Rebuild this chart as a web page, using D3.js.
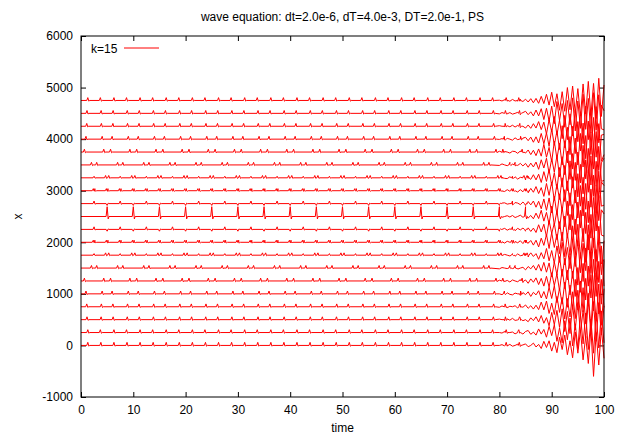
<!DOCTYPE html>
<html>
<head>
<meta charset="utf-8">
<script src="https://cdn.jsdelivr.net/npm/d3@7"></script>
<style>
  body { margin: 0; background: #fff; }
  text { font-family: "Liberation Sans", Arial, sans-serif; font-size: 12px; fill: #000; }
</style>
</head>
<body>
<div id="chart"></div>
<script>
// chart values
var chartTitle = "wave equation: dt=2.0e-6, dT=4.0e-3, DT=2.0e-1, PS";
var seriesName = "k=15";
var xTicks = [0, 10, 20, 30, 40, 50, 60, 70, 80, 90, 100];
var yTicks = [-1000, 0, 1000, 2000, 3000, 4000, 5000, 6000];

// one trace per x position, drawn at these offsets
var offsets = [0, 250, 500, 750, 1000, 1250, 1500, 1750, 2000, 2250,
               2500, 2750, 3000, 3250, 3500, 3750, 4000, 4250, 4500, 4750];

// pulses seen in every 5-unit stretch of time: [time in stretch, height]
var pulseCycle = 5;
var pulseEnd = 85.5;
var pulses = [
  [[1.3, 60], [3.8, 60]],
  [[1.3, 55], [3.7, 55]],
  [[1.15, 55], [3.85, 55]],
  [[1.1, 55], [3.9, 55]],
  [[0.95, 55], [4.05, 55]],
  [[0.65, 55], [4.35, 55]],
  [[2.0, 50], [3.0, 50]],
  [[4.7, 45], [0.3, 45], [2.5, 30]],
  [[4.85, 40], [0.15, 40], [2.35, 40], [2.65, 40]],
  [[0, -35], [2.5, 50]],
  [[0, 190]],
  [[0, -35], [2.5, 50]],
  [[4.85, 40], [0.15, 40], [2.35, 40], [2.65, 40]],
  [[4.7, 45], [0.3, 45], [2.5, 30]],
  [[2.0, 50], [3.0, 50]],
  [[0.65, 55], [4.35, 55]],
  [[0.95, 55], [4.05, 55]],
  [[1.1, 55], [3.9, 55]],
  [[1.15, 55], [3.85, 55]],
  [[1.3, 55], [3.7, 55]]
];

// late part of each trace (t = 80 ... 100), values around its offset
var burstTimes = [80, 80.5, 81, 81.5, 82, 82.5, 83, 83.5, 84, 84.5, 85, 85.5, 86, 86.5, 87, 87.5,
                  88, 88.5, 89, 89.5, 90, 90.5, 91, 91.5, 92, 92.5, 93, 93.5, 94, 94.5, 95, 95.5,
                  96, 96.5, 97, 97.5, 98, 98.5, 99, 99.5, 100];
var burst = [
  [0,15,-10,0,20, -15,0,25,-20,10, 30,-25,0,45,-30, 20,-60,80,-40,90, -110,60,-140,160,-80, 200,-180,90,-240,260, -150,300,-280,180,-350, 320,-600,250,-380,340, -250],
  [0,-10,20,-15,0, 10,-25,15,0,-30, 20,40,-35,10,-50, 70,-30,60,-90,120, -60,150,-170,90,-200, 230,-140,280,-260,170, -310,350,-220,380,-330, 260,-400,380,-300,420, -200],
  [10,0,-20,15,-10, 25,-15,-5,30,-20, 0,-40,35,-20,55, -45,80,-70,40,-120, 140,-100,180,-150,210, -230,160,-270,290,-200, 330,-260,180,-360,390, -290,350,-420,330,-300, 260],
  [-10,15,0,-20,10, 0,20,-25,15,-10, 35,-30,20,-45,30, -55,90,-60,110,-130, 70,-150,200,-110,180, -240,160,-200,290,-230, 320,-180,370,-330,260, -420,390,-280,440,-360, 350],
  [0,-15,10,20,-10, -20,15,0,-30,25, -15,40,-50,30,-20, 60,-80,45,-100,130, -90,160,-170,110,-200, 230,-260,170,-300,280, -310,250,-350,300,-240, 380,-330,410,-390,280, -260],
  [15,0,-10,10,-20, 20,0,-15,25,-30, 20,-45,40,-25,60, -70,50,-100,90,-120, 160,-90,140,-190,230, -150,210,-270,190,-300, 260,-220,340,-370,290, -330,420,-300,380,-450, 400],
  [-15,10,0,-10,20, -10,25,-20,0,15, -35,30,-15,50,-40, 70,-60,110,-80,100, -170,120,-130,220,-160, 190,-230,280,-200,240, -330,300,-260,390,-350, 310,-410,360,-280,430, -350],
  [10,-10,15,0,-15, 10,-20,25,-10,0, 30,-35,45,-25,30, -80,50,-70,130,-110, 90,-160,180,-140,250, -190,150,-260,310,-220, 280,-340,230,-300,400, -360,330,-430,290,-380, 280],
  [0,10,-15,20,0, -20,15,-10,30,-25, 40,-20,35,-55,40, -90,80,-60,150,-120, 190,-100,160,-220,200, -280,170,-240,320,-260, 350,-310,270,-390,340, -300,420,-370,310,-420, -330],
  [-10,0,20,-15,10, 0,-25,20,-10,25, -20,30,-40,25,-60, 90,-50,100,-140,170, -80,120,-200,150,-230, 260,-170,290,-250,200, -320,370,-240,330,-400, 290,-350,440,-300,380, 300],
  [10,-15,0,15,-10, 20,-20,0,25,-15, 45,-30,20,-45,65, -40,120,-90,80,-150, 200,-170,110,-240,180, -200,300,-260,230,-350, 280,-220,380,-330,300, -420,370,-280,410,-360, -380],
  [-15,10,15,-10,0, -25,20,10,-20,30, -35,40,-25,50,-70, 45,-100,90,-130,110, -180,140,-210,190,-150, 270,-230,210,-310,260, -280,350,-240,390,-370, 280,-410,350,-330,420, 350],
  [10,-5,-15,20,-10, 15,0,-25,20,-20, 25,-40,45,-30,80, -55,60,-110,140,-90, 170,-190,130,-170,250, -210,190,-290,270,-240, 330,-300,260,-360,410, -320,300,-430,380,-300, -280],
  [0,15,-10,-15,20, -10,20,-25,10,15, -40,30,-30,60,-40, 70,-90,120,-70,160, -150,100,-220,200,-180, 240,-250,330,-200,300, -370,260,-310,350,-280, 430,-360,320,-400,290, 380],
  [-10,20,0,-15,10, 20,-15,-10,30,-20, 30,-45,35,-40,55, -85,100,-60,130,-160, 120,-140,180,-230,160, -190,270,-280,220,-300, 250,-350,380,-270,320, -390,340,-410,360,-320, -300],
  [15,-10,10,0,-20, 15,10,-25,20,-15, -20,40,-50,35,-70, 60,-80,150,-100,90, -190,210,-130,170,-250, 220,-210,300,-330,270, -250,360,-290,320,-410, 380,-330,400,-360,330, 340],
  [-5,10,-15,15,0, -20,25,-10,0,20, 35,-30,40,-60,45, -75,110,-90,120,-140, 200,-120,160,-200,260, -170,230,-300,250,-280, 340,-230,310,-380,350, -300,420,-350,300,-430, -300],
  [10,0,-15,10,-10, 20,-15,15,-25,0, -35,25,-40,50,-35, 90,-65,80,-150,130, -110,190,-170,120,-240, 210,-260,240,-190,320, -300,280,-340,390,-260, 330,-420,380,-320,410, 300],
  [-10,15,0,-10,15, -15,0,20,-25,15, 40,-25,30,-50,65, -50,90,-120,100,-150, 140,-200,230,-140,190, -270,250,-220,300,-340, 240,-290,370,-310,290, -380,400,-330,360,-300, -320],
  [5,-10,15,-5,-15, 20,-10,-15,25,-20, 25,-30,35,-45,40, -55,80,-60,120,-90, 160,-120,130,-190,170, -210,250,-180,280,-240, 230,-300,320,-260,370, -290,330,-350,430,-310, 300]
];

var margin = {top: 36, right: 19, bottom: 39, left: 81};
var width = 623 - margin.left - margin.right;
var height = 436 - margin.top - margin.bottom;

var svg = d3.select("#chart")
  .append("svg")
  .attr("width", 623)
  .attr("height", 436)
  .append("g")
  .attr("transform", "translate(" + margin.left + "," + margin.top + ")");

var x = d3.scaleLinear().domain([0, 100]).range([0, width]);
var y = d3.scaleLinear().domain([-1000, 6000]).range([height, 0]);

var plainNum = function(d) { return String(d); };

// axes, ticks pointing inward on all four sides
var xAxis = svg.append("g")
  .attr("transform", "translate(0," + height + ")")
  .call(d3.axisBottom(x).tickValues(xTicks).tickSize(-5).tickPadding(8).tickFormat(plainNum));
svg.append("g")
  .call(d3.axisTop(x).tickValues(xTicks).tickSize(-5).tickFormat(""));
var yAxis = svg.append("g")
  .call(d3.axisLeft(y).tickValues(yTicks).tickSize(-5).tickPadding(8).tickFormat(plainNum));
svg.append("g")
  .attr("transform", "translate(" + width + ",0)")
  .call(d3.axisRight(y).tickValues(yTicks).tickSize(-5).tickFormat(""));

svg.selectAll(".domain").remove();
svg.selectAll(".tick line").attr("stroke", "#000");
svg.selectAll(".tick text").attr("fill", "#000").style("font-size", "12px")
  .style("font-family", "'Liberation Sans', Arial, sans-serif");

// build each trace: flat line with pulses, noise from t=80 on
function tracePoints(k) {
  var pts = [[0, 0]];
  for (var c = 0; c * pulseCycle < pulseEnd; c++) {
    pulses[k].forEach(function(p) {
      var t = c * pulseCycle + p[0];
      if (t > 0.5 && t < pulseEnd) {
        pts.push([t - 0.2, 0]);
        pts.push([t, p[1]]);
        pts.push([t + 0.2, -0.25 * p[1]]);
        pts.push([t + 0.35, 0]);
      }
    });
  }
  burstTimes.forEach(function(t, i) {
    pts.push([t, burst[k][i]]);
  });
  pts.sort(function(a, b) { return a[0] - b[0]; });
  return pts.map(function(p) { return {t: p[0], v: p[1] + offsets[k]}; });
}

var line = d3.line()
  .x(function(d) { return x(d.t); })
  .y(function(d) { return y(d.v); });

var plot = svg.append("g");
offsets.forEach(function(o, k) {
  plot.append("path")
    .datum(tracePoints(k))
    .attr("fill", "none")
    .attr("stroke", "#ff0000")
    .attr("stroke-width", 1)
    .attr("d", line);
});

// frame
svg.append("rect")
  .attr("x", 0).attr("y", 0)
  .attr("width", width).attr("height", height)
  .attr("fill", "none")
  .attr("stroke", "#000")
  .attr("stroke-width", 1);

// legend
svg.append("text").attr("x", 10).attr("y", 16.5).text(seriesName);
svg.append("line")
  .attr("x1", 43).attr("x2", 78)
  .attr("y1", 12).attr("y2", 12)
  .attr("stroke", "#ff0000").attr("stroke-width", 1);

// title and labels
svg.append("text")
  .attr("x", width / 2).attr("y", -15)
  .style("text-anchor", "middle")
  .text(chartTitle);

svg.append("text")
  .attr("x", width / 2).attr("y", height + 35)
  .style("text-anchor", "middle")
  .text("time");

svg.append("text")
  .attr("transform", "translate(-59," + (height / 2) + ") rotate(-90)")
  .style("text-anchor", "middle")
  .text("x");
</script>
</body>
</html>
